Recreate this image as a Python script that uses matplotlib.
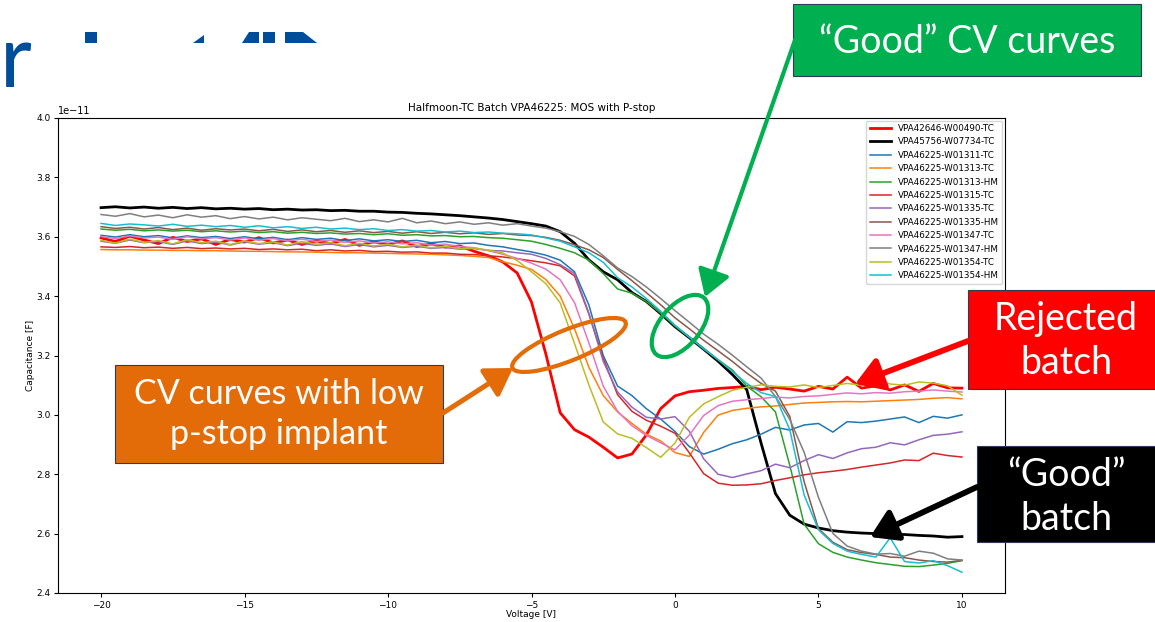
"""CV scan of the Halfmoon-TC batch VPA46225 (MOS with p-stop), slide version
with the callout boxes, arrows and ellipses drawn on top of the plot."""
import matplotlib

matplotlib.use("Agg")
import matplotlib.pyplot as plt
import numpy as np
from matplotlib.patches import Ellipse, FancyArrowPatch, Polygon, Rectangle
from matplotlib.transforms import Affine2D

# voltage sweep of the CV measurement [V]
VOLTAGE = np.arange(-20.0, 10.5, 0.5)

# capacitance in units of 1e-11 F, one value per sweep point
W00490_TC = [3.596, 3.584, 3.602, 3.589, 3.577, 3.598, 3.584, 3.593, 3.574, 3.591,
             3.582, 3.597, 3.579, 3.589, 3.574, 3.586, 3.577, 3.591, 3.571, 3.583,
             3.574, 3.586, 3.567, 3.576, 3.565, 3.569, 3.551, 3.536, 3.515, 3.478,
             3.380, 3.205, 3.007, 2.950, 2.925, 2.891, 2.855, 2.868, 2.932, 3.021,
             3.064, 3.078, 3.083, 3.089, 3.092, 3.096, 3.085, 3.093, 3.087, 3.080,
             3.096, 3.087, 3.127, 3.090, 3.098, 3.084, 3.101, 3.079, 3.106, 3.091,
             3.090]
W07734_TC = [3.698, 3.701, 3.697, 3.700, 3.696, 3.699, 3.695, 3.698, 3.694, 3.696,
             3.693, 3.695, 3.691, 3.693, 3.690, 3.691, 3.688, 3.689, 3.686, 3.686,
             3.683, 3.682, 3.679, 3.677, 3.674, 3.671, 3.667, 3.663, 3.658, 3.651,
             3.644, 3.636, 3.617, 3.578, 3.522, 3.482, 3.455, 3.412, 3.382, 3.341,
             3.297, 3.260, 3.221, 3.181, 3.136, 3.085, 2.905, 2.735, 2.662, 2.632,
             2.619, 2.610, 2.605, 2.602, 2.600, 2.598, 2.597, 2.594, 2.592, 2.588,
             2.590]
W01311_TC = [3.605, 3.599, 3.607, 3.600, 3.604, 3.596, 3.603, 3.597, 3.601, 3.594,
             3.600, 3.593, 3.598, 3.590, 3.597, 3.591, 3.595, 3.587, 3.593, 3.586,
             3.590, 3.584, 3.588, 3.580, 3.584, 3.577, 3.579, 3.571, 3.566, 3.557,
             3.549, 3.538, 3.521, 3.482, 3.370, 3.200, 3.097, 3.065, 3.021, 2.986,
             2.944, 2.893, 2.868, 2.884, 2.903, 2.916, 2.935, 2.958, 2.949, 2.966,
             2.971, 2.942, 2.977, 2.974, 2.979, 2.986, 2.993, 2.974, 2.995, 2.989,
             3.000]
W01313_TC = [3.557, 3.556, 3.556, 3.555, 3.555, 3.554, 3.554, 3.553, 3.553, 3.552,
             3.551, 3.551, 3.550, 3.549, 3.549, 3.548, 3.547, 3.546, 3.546, 3.545,
             3.544, 3.543, 3.542, 3.541, 3.539, 3.537, 3.534, 3.530, 3.516, 3.504,
             3.490, 3.456, 3.400, 3.290, 3.160, 3.065, 3.010, 2.971, 2.935, 2.912,
             2.873, 2.860, 2.941, 2.999, 3.015, 3.022, 3.027, 3.030, 3.035, 3.040,
             3.042, 3.044, 3.045, 3.044, 3.046, 3.048, 3.050, 3.052, 3.056, 3.058,
             3.054]
W01313_HM = [3.626, 3.622, 3.625, 3.620, 3.623, 3.619, 3.622, 3.617, 3.620, 3.616,
             3.619, 3.614, 3.617, 3.612, 3.615, 3.611, 3.613, 3.609, 3.611, 3.607,
             3.610, 3.605, 3.607, 3.603, 3.604, 3.600, 3.601, 3.597, 3.595, 3.590,
             3.585, 3.574, 3.561, 3.546, 3.521, 3.476, 3.424, 3.410, 3.382, 3.343,
             3.299, 3.261, 3.224, 3.186, 3.151, 3.097, 3.061, 3.010, 2.830, 2.632,
             2.566, 2.537, 2.521, 2.511, 2.502, 2.496, 2.490, 2.489, 2.494, 2.500,
             2.509]
W01315_TC = [3.566, 3.564, 3.567, 3.563, 3.565, 3.561, 3.564, 3.560, 3.562, 3.559,
             3.561, 3.557, 3.559, 3.556, 3.558, 3.553, 3.556, 3.552, 3.554, 3.550,
             3.551, 3.548, 3.549, 3.545, 3.545, 3.541, 3.540, 3.536, 3.532, 3.526,
             3.519, 3.512, 3.502, 3.468, 3.340, 3.190, 3.068, 3.012, 2.982, 2.962,
             2.938, 2.872, 2.802, 2.770, 2.763, 2.764, 2.768, 2.779, 2.788, 2.798,
             2.805, 2.810, 2.816, 2.824, 2.831, 2.838, 2.848, 2.846, 2.871, 2.863,
             2.858]
W01335_TC = [3.585, 3.578, 3.589, 3.580, 3.584, 3.574, 3.586, 3.577, 3.582, 3.572,
             3.583, 3.575, 3.580, 3.570, 3.578, 3.571, 3.576, 3.567, 3.574, 3.566,
             3.571, 3.564, 3.568, 3.561, 3.564, 3.558, 3.560, 3.554, 3.552, 3.546,
             3.541, 3.527, 3.506, 3.476, 3.342, 3.180, 3.077, 3.026, 2.992, 2.986,
             2.994, 2.945, 2.852, 2.800, 2.789, 2.801, 2.812, 2.834, 2.822, 2.846,
             2.866, 2.853, 2.872, 2.886, 2.891, 2.906, 2.899, 2.916, 2.931, 2.935,
             2.943]
W01335_HM = [3.634, 3.628, 3.632, 3.626, 3.631, 3.624, 3.629, 3.622, 3.627, 3.623,
             3.626, 3.620, 3.625, 3.618, 3.623, 3.617, 3.621, 3.615, 3.620, 3.614,
             3.618, 3.612, 3.617, 3.611, 3.615, 3.610, 3.613, 3.608, 3.611, 3.606,
             3.604, 3.598, 3.588, 3.573, 3.556, 3.530, 3.490, 3.452, 3.412, 3.371,
             3.327, 3.290, 3.251, 3.216, 3.180, 3.141, 3.106, 3.080, 2.995, 2.775,
             2.617, 2.571, 2.546, 2.536, 2.530, 2.521, 2.519, 2.511, 2.506, 2.504,
             2.510]
W01347_TC = [3.601, 3.594, 3.603, 3.596, 3.599, 3.591, 3.600, 3.593, 3.597, 3.589,
             3.596, 3.588, 3.594, 3.586, 3.592, 3.584, 3.589, 3.581, 3.586, 3.579,
             3.583, 3.576, 3.580, 3.572, 3.575, 3.567, 3.563, 3.553, 3.541, 3.527,
             3.511, 3.491, 3.455, 3.378, 3.242, 3.097, 3.012, 2.963, 2.931, 2.906,
             2.882, 2.932, 2.998, 3.031, 3.046, 3.051, 3.055, 3.060, 3.057, 3.062,
             3.064, 3.069, 3.074, 3.071, 3.075, 3.073, 3.078, 3.080, 3.084, 3.080,
             3.077]
W01347_HM = [3.675, 3.669, 3.678, 3.667, 3.673, 3.664, 3.674, 3.666, 3.671, 3.661,
             3.668, 3.660, 3.666, 3.657, 3.664, 3.659, 3.654, 3.662, 3.651, 3.657,
             3.650, 3.662, 3.647, 3.653, 3.644, 3.650, 3.642, 3.647, 3.639, 3.644,
             3.636, 3.629, 3.617, 3.601, 3.574, 3.536, 3.495, 3.466, 3.431, 3.392,
             3.351, 3.312, 3.272, 3.238, 3.201, 3.162, 3.124, 3.062, 2.985, 2.874,
             2.722, 2.601, 2.558, 2.541, 2.531, 2.533, 2.524, 2.541, 2.534, 2.515,
             2.511]
W01354_TC = [3.588, 3.579, 3.592, 3.581, 3.587, 3.576, 3.590, 3.580, 3.585, 3.574,
             3.586, 3.577, 3.583, 3.572, 3.584, 3.575, 3.580, 3.570, 3.578, 3.569,
             3.575, 3.566, 3.572, 3.563, 3.568, 3.560, 3.562, 3.555, 3.545, 3.520,
             3.482, 3.442, 3.377, 3.240, 3.101, 2.976, 2.936, 2.921, 2.890, 2.857,
             2.905, 2.992, 3.037, 3.061, 3.083, 3.093, 3.101, 3.096, 3.094, 3.101,
             3.092, 3.099, 3.106, 3.100, 3.117, 3.104, 3.100, 3.111, 3.107, 3.098,
             3.066]
W01354_HM = [3.645, 3.638, 3.643, 3.640, 3.636, 3.642, 3.635, 3.639, 3.634, 3.638,
             3.632, 3.637, 3.630, 3.634, 3.628, 3.632, 3.626, 3.629, 3.624, 3.627,
             3.621, 3.624, 3.619, 3.621, 3.616, 3.619, 3.614, 3.616, 3.612, 3.610,
             3.606, 3.596, 3.585, 3.566, 3.546, 3.514, 3.462, 3.431, 3.392, 3.349,
             3.302, 3.262, 3.222, 3.186, 3.146, 3.106, 3.075, 3.062, 2.950, 2.730,
             2.613, 2.567, 2.541, 2.530, 2.521, 2.586, 2.506, 2.501, 2.509, 2.492,
             2.470]

# (label, values, colour, linewidth) in plotting / legend order
CURVES = [
    ("VPA42646-W00490-TC", W00490_TC, "red", 2.0),
    ("VPA45756-W07734-TC", W07734_TC, "black", 2.0),
    ("VPA46225-W01311-TC", W01311_TC, "tab:blue", 1.1),
    ("VPA46225-W01313-TC", W01313_TC, "tab:orange", 1.1),
    ("VPA46225-W01313-HM", W01313_HM, "tab:green", 1.1),
    ("VPA46225-W01315-TC", W01315_TC, "tab:red", 1.1),
    ("VPA46225-W01335-TC", W01335_TC, "tab:purple", 1.1),
    ("VPA46225-W01335-HM", W01335_HM, "tab:brown", 1.1),
    ("VPA46225-W01347-TC", W01347_TC, "tab:pink", 1.1),
    ("VPA46225-W01347-HM", W01347_HM, "tab:gray", 1.1),
    ("VPA46225-W01354-TC", W01354_TC, "tab:olive", 1.1),
    ("VPA46225-W01354-HM", W01354_HM, "tab:cyan", 1.1),
]

W, H = 1155, 622
BLUE = "#004D99"
GREEN = "#00B050"
ORANGE = "#E36C09"
RED = "#FF0000"
EDGE = "#2E3A57"
BOX_FONT = ["Lato", "DejaVu Sans"]

fig = plt.figure(figsize=(W / 100, H / 100), dpi=100)
# slide coordinates: pixels, origin top-left, y downwards
px = Affine2D().scale(1 / 100, -1 / 100).translate(0, H / 100) + fig.dpi_scale_trans

# slide title, mostly hidden behind the pasted plot
fig.text(0, 87, "r", transform=px, ha="left", va="baseline", fontsize=63,
         color=BLUE, family=BOX_FONT, zorder=-3)
title_bits = [
    [(85, 32), (97, 32), (97, 43), (85, 43)],
    [(193, 43), (204, 35), (204, 43)],
    [(242, 43), (249, 32), (259, 32), (259, 43)],
    [(263, 32), (275, 32), (275, 43), (263, 43)],
    [(285, 32), (303, 32), (317, 43), (285, 43)],
]
for pts in title_bits:
    fig.add_artist(Polygon(pts, closed=True, transform=px, facecolor=BLUE,
                           edgecolor="none", zorder=-3))

# the CV plot itself
ax = fig.add_axes([58 / W, 1 - 593 / H, (1005 - 58) / W, (593 - 118) / H])
for label, vals, color, lw in CURVES:
    ax.plot(VOLTAGE, np.array(vals) * 1e-11, color=color, lw=lw, label=label)
ax.set_ylim(2.4e-11, 4.0e-11)
ax.set_title("Halfmoon-TC Batch VPA46225: MOS with P-stop", fontsize=7.5, pad=5)
ax.set_xlabel("Voltage [V]", fontsize=6.5, labelpad=0.5)
ax.set_ylabel("Capacitance [F]", fontsize=6.5, labelpad=1)
ax.tick_params(labelsize=6.5, length=3, pad=2.5)
ax.yaxis.get_offset_text().set_fontsize(7)
ax.legend(loc="upper right", fontsize=6.3, handlelength=2.4, labelspacing=0.5,
          borderaxespad=0.3)

# callout boxes
boxes = [
    ((793, 4), 348, 72, GREEN, "\u201cGood\u201d CV curves", (967, 42), 27),
    ((115, 365), 328, 98, ORANGE, "CV curves with low\np-stop implant", (279, 414), 24.5),
    ((968, 290), 200, 99, RED, "Rejected\nbatch", (1066, 341), 27),
    ((977, 446), 200, 96, "black", "\u201cGood\u201d\nbatch", (1066, 497), 27),
]
for (x0, y0), bw, bh, fc, txt, (tx, ty), size in boxes:
    fig.add_artist(Rectangle((x0, y0), bw, bh, transform=px, facecolor=fc,
                             edgecolor=EDGE, lw=0.8, zorder=5))
    fig.text(tx, ty, txt, transform=px, ha="center", va="center", color="white",
             fontsize=size, family=BOX_FONT, linespacing=1.3, zorder=6)

# arrows from the boxes to the curves
arrows = [
    ((795, 40), (705, 297), GREEN, 3.0),
    ((443, 413), (513, 368), ORANGE, 3.6),
    ((968, 341), (855, 384), RED, 4.2),
    ((977, 487), (870, 537), "black", 4.2),
]
for start, end, color, lw in arrows:
    fig.add_artist(FancyArrowPatch(start, end, transform=px, color=color, lw=lw,
                                   arrowstyle="-|>,head_length=0.8,head_width=0.5",
                                   mutation_scale=20, shrinkA=0, shrinkB=0, zorder=5))

# ellipses around the curve groups
fig.add_artist(Ellipse((569, 345), 122, 31, angle=-22, transform=px, fill=False,
                       edgecolor=ORANGE, lw=3.0, zorder=5))
fig.add_artist(Ellipse((680, 326), 74, 40, angle=-50, transform=px, fill=False,
                       edgecolor=GREEN, lw=3.0, zorder=5))

fig.savefig("out.png", dpi=100)
